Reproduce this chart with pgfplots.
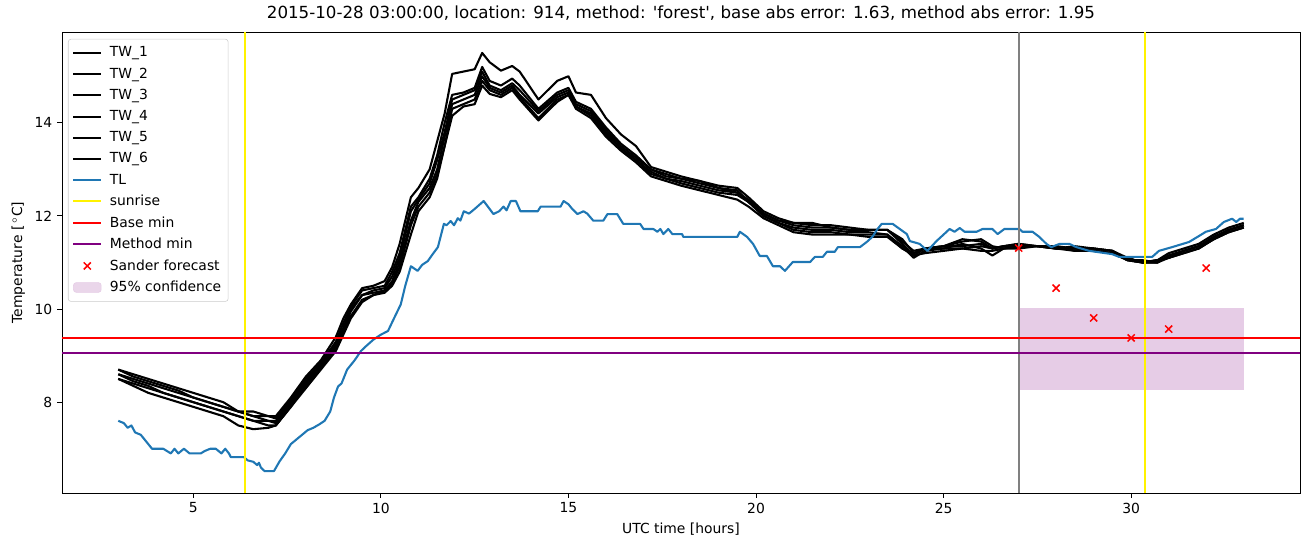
\documentclass[border=0pt]{standalone}
\usepackage{pgfplots}
\pgfplotsset{compat=1.18}
\usepackage{pgfplotstable}
\usepackage{fontspec}
\setmainfont{DejaVu Sans}
\definecolor{tabblue}{RGB}{31,119,180}
\definecolor{mplpurple}{RGB}{128,0,128}
\definecolor{mplgray}{RGB}{128,128,128}
\pgfplotsset{
  linelegend/.style={legend image code/.code={\draw[##1] (0pt,0pt) -- (20pt,0pt);}},
  marklegend/.style={legend image code/.code={\draw[##1] plot coordinates {(10pt,0pt)};}},
  boxlegend/.style={legend image code/.code={\fill[mplpurple!20] (0pt,-3.5pt) rectangle (20pt,3.5pt);}},
}

\pgfplotstableread{
x a b c d e f
3.0 8.7 8.7 8.6 8.6 8.5 8.5
3.4 8.6 8.55 8.5 8.45 8.4 8.35
3.8 8.5 8.45 8.4 8.35 8.3 8.2
4.2 8.4 8.35 8.3 8.2 8.2 8.1
4.6 8.3 8.25 8.2 8.1 8.1 8.0
5.0 8.2 8.1 8.1 8.0 8.0 7.9
5.4 8.1 8.0 8.0 7.9 7.9 7.8
5.8 8.0 7.9 7.9 7.8 7.8 7.7
6.2 7.8 7.8 7.8 7.7 7.7 7.5
6.6 7.8 7.7 7.7 7.6 7.6 7.42
7.0 7.7 7.7 7.6 7.6 7.5 7.45
7.2 7.7 7.65 7.6 7.55 7.5 7.5
7.6 8.1 8.05 8.0 7.95 7.9 7.9
8.0 8.55 8.5 8.45 8.4 8.35 8.3
8.4 8.9 8.85 8.8 8.8 8.75 8.7
8.8 9.4 9.3 9.25 9.2 9.15 9.1
9.0 9.8 9.7 9.6 9.55 9.5 9.45
9.2 10.1 10.05 10.0 9.95 9.85 9.8
9.5 10.45 10.4 10.3 10.3 10.2 10.15
9.8 10.5 10.45 10.4 10.35 10.3 10.3
10.1 10.6 10.5 10.45 10.4 10.4 10.35
10.3 10.9 10.8 10.7 10.6 10.55 10.5
10.5 11.4 11.2 11.1 11.0 10.9 10.8
10.8 12.4 12.2 12.1 11.9 11.8 11.6
11.0 12.6 12.4 12.35 12.3 12.2 12.1
11.3 13.0 12.8 12.7 12.6 12.5 12.4
11.5 13.6 13.3 13.2 13.0 12.9 12.8
11.7 14.2 14.0 13.8 13.7 13.5 13.5
11.9 15.05 14.6 14.5 14.4 14.3 14.15
12.2 15.1 14.65 14.6 14.5 14.4 14.35
12.5 15.15 14.75 14.7 14.6 14.5 14.4
12.7 15.5 15.2 15.1 15.0 14.9 14.8
12.9 15.3 14.9 14.8 14.75 14.7 14.62
13.2 15.12 14.8 14.7 14.65 14.6 14.55
13.5 15.22 14.95 14.85 14.8 14.75 14.7
13.7 15.1 14.8 14.7 14.6 14.55 14.5
14.2 14.5 14.3 14.25 14.2 14.1 14.05
14.7 14.9 14.65 14.6 14.55 14.5 14.45
15.0 15.0 14.75 14.7 14.65 14.6 14.6
15.2 14.65 14.45 14.4 14.35 14.35 14.3
15.6 14.6 14.3 14.25 14.2 14.15 14.1
16.0 14.1 13.9 13.85 13.8 13.75 13.7
16.4 13.75 13.55 13.5 13.45 13.45 13.4
16.8 13.5 13.3 13.25 13.2 13.2 13.15
17.2 13.05 13.0 13.0 12.95 12.9 12.85
17.6 12.95 12.9 12.85 12.8 12.8 12.75
18.0 12.85 12.8 12.8 12.75 12.7 12.65
18.5 12.75 12.75 12.7 12.65 12.6 12.55
19.0 12.6 12.65 12.6 12.55 12.5 12.45
19.5 12.55 12.6 12.5 12.5 12.45 12.35
19.8 12.3 12.4 12.35 12.3 12.3 12.2
20.2 12.05 12.1 12.05 12.0 12.0 11.95
20.6 11.9 11.95 11.9 11.85 11.85 11.8
21.0 11.85 11.85 11.8 11.75 11.7 11.65
21.5 11.85 11.8 11.75 11.7 11.65 11.6
22.0 11.75 11.8 11.75 11.7 11.65 11.6
22.5 11.7 11.75 11.7 11.65 11.6 11.6
23.0 11.7 11.7 11.7 11.65 11.6 11.55
23.5 11.7 11.7 11.7 11.6 11.6 11.55
23.9 11.4 11.5 11.45 11.35 11.3 11.3
24.2 11.15 11.2 11.25 11.1 11.15 11.2
24.5 11.3 11.3 11.3 11.25 11.2 11.3
25.0 11.35 11.35 11.3 11.3 11.25 11.35
25.5 11.5 11.45 11.4 11.3 11.3 11.35
26.0 11.45 11.5 11.3 11.25 11.35 11.4
26.3 11.3 11.35 11.15 11.25 11.3 11.3
26.6 11.35 11.3 11.3 11.3 11.35 11.35
27.0 11.4 11.35 11.35 11.3 11.35 11.4
27.5 11.35 11.35 11.35 11.35 11.35 11.35
28.0 11.35 11.3 11.35 11.3 11.3 11.3
28.5 11.3 11.35 11.25 11.3 11.3 11.25
29.0 11.3 11.3 11.25 11.3 11.25 11.25
29.5 11.25 11.25 11.2 11.25 11.2 11.2
29.9 11.05 11.1 11.05 11.05 11.1 11.05
30.3 11.0 11.0 11.0 11.05 11.0 11.0
30.7 11.0 11.05 11.05 11.0 11.0 11.05
31.0 11.15 11.2 11.1 11.1 11.15 11.1
31.4 11.25 11.3 11.25 11.2 11.25 11.2
31.8 11.35 11.4 11.35 11.3 11.35 11.3
32.2 11.55 11.6 11.5 11.5 11.55 11.5
32.6 11.7 11.75 11.7 11.65 11.7 11.65
33.0 11.8 11.85 11.8 11.75 11.8 11.75
}\tw

\pgfplotstableread{
x y
3.0 7.6
3.15 7.55
3.25 7.45
3.35 7.5
3.45 7.35
3.6 7.3
3.7 7.2
3.85 7.05
3.9 7.0
4.2 7.0
4.3 6.95
4.4 6.9
4.5 7.0
4.6 6.9
4.75 7.0
4.9 6.9
5.2 6.9
5.3 6.95
5.45 7.0
5.6 7.0
5.75 6.9
5.85 7.0
5.95 6.9
6.0 6.82
6.35 6.82
6.45 6.75
6.6 6.72
6.7 6.65
6.75 6.7
6.8 6.6
6.9 6.52
7.15 6.52
7.3 6.73
7.45 6.9
7.6 7.1
7.75 7.2
7.9 7.3
8.05 7.4
8.2 7.45
8.35 7.52
8.5 7.6
8.65 7.8
8.75 8.1
8.86 8.34
8.95 8.4
9.1 8.7
9.3 8.9
9.47 9.1
9.6 9.2
9.81 9.35
10.0 9.45
10.19 9.53
10.35 9.8
10.53 10.1
10.65 10.5
10.8 10.92
10.98 10.82
11.1 10.95
11.25 11.03
11.4 11.2
11.52 11.33
11.68 11.83
11.75 11.8
11.86 11.89
11.95 11.8
12.05 11.95
12.12 11.9
12.21 12.1
12.35 12.05
12.5 12.15
12.74 12.32
13.0 12.04
13.15 12.1
13.27 12.2
13.35 12.12
13.46 12.32
13.6 12.32
13.72 12.1
14.18 12.1
14.26 12.2
14.79 12.2
14.87 12.32
15.0 12.25
15.1 12.15
15.24 12.04
15.4 12.1
15.5 12.05
15.66 11.9
15.93 11.9
16.04 12.04
16.3 12.04
16.46 11.83
16.91 11.83
17.0 11.72
17.26 11.72
17.37 11.66
17.45 11.72
17.53 11.61
17.66 11.72
17.77 11.61
18.03 11.61
18.06 11.55
19.5 11.55
19.57 11.66
19.76 11.55
19.92 11.4
20.1 11.14
20.29 11.14
20.45 10.92
20.64 10.92
20.77 10.82
20.98 11.01
21.44 11.01
21.57 11.12
21.78 11.12
21.89 11.23
22.1 11.23
22.18 11.33
22.77 11.33
22.95 11.44
23.1 11.55
23.24 11.72
23.35 11.83
23.64 11.83
23.83 11.72
24.02 11.61
24.1 11.46
24.36 11.4
24.57 11.25
24.81 11.46
25.0 11.6
25.16 11.72
25.29 11.66
25.43 11.74
25.56 11.66
25.88 11.66
26.04 11.72
26.3 11.72
26.44 11.61
26.62 11.72
27.02 11.72
27.1 11.66
27.37 11.66
27.55 11.55
27.74 11.4
27.87 11.33
28.09 11.4
28.35 11.4
28.54 11.33
28.88 11.25
29.49 11.18
29.68 11.12
30.56 11.12
30.74 11.25
31.09 11.33
31.54 11.44
31.81 11.57
31.99 11.66
32.26 11.72
32.47 11.87
32.69 11.94
32.8 11.87
32.9 11.94
33.0 11.94
}\tl

\pgfplotstableread{
x y
27 11.31
28 10.45
29 9.81
30 9.38
31 9.57
32 10.88
}\sander

\begin{document}
\begin{tikzpicture}
\begin{axis}[
  width=891.36pt, height=331.92pt, scale only axis,
  xmin=1.5, xmax=34.5, ymin=6.05, ymax=15.95,
  xtick={5,10,15,20,25,30}, ytick={8,10,12,14},
  tick align=outside, tick pos=left, major tick length=3.5pt,
  every tick/.style={black, line width=0.7pt},
  axis line style={line width=0.7pt},
  /pgf/number format/assume math mode=true,
  tick label style={font=\fontsize{10}{12}\selectfont},
  label style={font=\fontsize{10}{12}\selectfont},
  xlabel={UTC time [hours]},
  ylabel={Temperature [\,$^\circ$C]},
  title={2015-10-28 03:00:00, location: 914, method: \textquotesingle forest\textquotesingle, base abs error: 1.63, method abs error: 1.95},
  title style={font=\fontsize{12}{14}\selectfont, yshift=-1pt},
  legend cell align=left,
  legend style={at={(0.0048,0.985)}, anchor=north west, font=\fontsize{10}{12}\selectfont,
    draw=black!20, rounded corners=2pt, fill=white, fill opacity=0.8, text opacity=1,
    row sep=2.4pt, inner xsep=3pt, inner ysep=3.5pt,
    /tikz/every odd column/.append style={column sep=3.5pt}},
  linelegend,
]
\addplot[mplpurple!20, fill=mplpurple!20, draw=none, forget plot] coordinates {(27,8.26) (33,8.26) (33,10.02) (27,10.02)} -- cycle;
\addplot[black, line width=1.5pt, line join=round] table[x=x,y=a]{\tw};
\addlegendentry{TW\_1}
\addplot[black, line width=1.5pt, line join=round] table[x=x,y=b]{\tw};
\addlegendentry{TW\_2}
\addplot[black, line width=1.5pt, line join=round] table[x=x,y=c]{\tw};
\addlegendentry{TW\_3}
\addplot[black, line width=1.5pt, line join=round] table[x=x,y=d]{\tw};
\addlegendentry{TW\_4}
\addplot[black, line width=1.5pt, line join=round] table[x=x,y=e]{\tw};
\addlegendentry{TW\_5}
\addplot[black, line width=1.5pt, line join=round] table[x=x,y=f]{\tw};
\addlegendentry{TW\_6}
\addplot[tabblue, line width=1.5pt, line join=round] table[x=x,y=y]{\tl};
\addlegendentry{TL}
\addplot[yellow, line width=1.5pt] coordinates {(6.38,6.05) (6.38,15.95)};
\addlegendentry{sunrise}
\addplot[yellow, line width=1.5pt, forget plot] coordinates {(30.38,6.05) (30.38,15.95)};
\addplot[mplgray, line width=1.5pt, forget plot] coordinates {(27,6.05) (27,15.95)};
\addplot[red, line width=1.5pt] coordinates {(1.5,9.38) (34.5,9.38)};
\addlegendentry{Base min}
\addplot[mplpurple, line width=1.5pt] coordinates {(1.5,9.05) (34.5,9.05)};
\addlegendentry{Method min}
\addplot[red, only marks, mark=x, mark size=3.6pt, mark options={line width=1.1pt}, marklegend] table[x=x,y=y]{\sander};
\addlegendentry{Sander forecast}
\addlegendimage{boxlegend}
\addlegendentry{95\% confidence}
\end{axis}
\path ([xshift=-44.64pt,yshift=-38.88pt]current axis.south west) rectangle ([xshift=7.2pt,yshift=23.04pt]current axis.north east);
\end{tikzpicture}
\end{document}
